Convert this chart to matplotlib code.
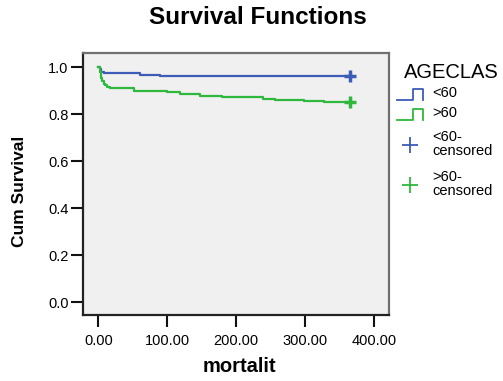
import matplotlib
matplotlib.use("Agg")
import matplotlib.pyplot as plt

plt.rcParams['font.family'] = ['Liberation Sans', 'DejaVu Sans']

# survival estimates (time, cumulative survival)
young_t = [0, 2, 4, 8, 61, 90, 162, 365]
young_s = [1.0, 0.99, 0.98, 0.973, 0.967, 0.963, 0.962, 0.962]
old_t = [0, 2, 4, 6, 8, 10, 13, 17, 51, 100, 119, 148, 179, 209, 239, 256, 299, 328, 365]
old_s = [1.0, 0.98, 0.955, 0.94, 0.93, 0.922, 0.915, 0.909, 0.899, 0.892, 0.885,
         0.878, 0.874, 0.871, 0.865, 0.861, 0.857, 0.852, 0.852]
# last censored case in each group
young_cens_t = [365]
young_cens_s = [0.962]
old_cens_t = [365]
old_cens_s = [0.852]

groups = ['<60', '>60']
x_ticks = [0, 100, 200, 300, 400]
y_ticks = [0.0, 0.2, 0.4, 0.6, 0.8, 1.0]

blue = '#3D5CB6'
green = '#2EB83C'

W, H = 503, 381
fig = plt.figure(figsize=(W / 100, H / 100), dpi=100)
ax = fig.add_axes([83 / W, 1 - 315 / H, 306 / W, 262 / H])
ax.set_facecolor('#F0F0F0')

ax.step(young_t, young_s, where='post', color=blue, lw=1.6)
ax.step(old_t, old_s, where='post', color=green, lw=1.6)
ax.plot(young_cens_t, young_cens_s, '+', color=blue, ms=8, mew=2.5)
ax.plot(old_cens_t, old_cens_s, '+', color=green, ms=8, mew=2.5)

ax.set_xlim(-22.3, 421.8)
ax.set_ylim(-0.055, 1.06)
ax.set_xticks(x_ticks)
ax.set_xticklabels(['%.2f' % v for v in x_ticks])
ax.set_yticks(y_ticks)
ax.set_yticklabels(['%.1f' % v for v in y_ticks])
ax.tick_params(axis='both', direction='out', length=8.5, width=1.5, labelsize=10.5, color='#111111')
ax.tick_params(axis='y', pad=2)
ax.tick_params(axis='x', pad=5)

for side in ['left', 'bottom']:
    ax.spines[side].set_color('#222222')
    ax.spines[side].set_linewidth(1.6)
for side in ['top', 'right']:
    ax.spines[side].set_color('#707070')
    ax.spines[side].set_linewidth(1.6)

ax.set_xlabel('mortalit', fontsize=14.5, fontweight='bold', va='center')
ax.xaxis.set_label_coords(0.51, -0.198)
ax.set_ylabel('Cum Survival', fontsize=12.5, fontweight='bold', va='center')
ax.yaxis.set_label_coords(-0.209, 0.473)

fig.text(258 / W, 1 - 18 / H, 'Survival Functions', fontsize=17.5, fontweight='bold',
         ha='center', va='center')

# legend, drawn on an overlay in pixel units
lg = fig.add_axes([0, 0, 1, 1], facecolor='none')
lg.set_xlim(0, W)
lg.set_ylim(H, 0)
lg.axis('off')
lg.text(404, 73, 'AGECLAS', fontsize=14.5, va='center', ha='left')
for i, (g, c) in enumerate(zip(groups, [blue, green])):
    yb = 100 + 20 * i
    lg.plot([397, 412.7, 412.7, 423.3, 423.3], [yb, yb, yb - 11, yb - 11, yb], color=c, lw=1.3)
    lg.text(432, yb - 7, g, fontsize=10.5, va='center', ha='left')
    yc = 145 + 40 * i
    lg.plot([410], [yc], '+', color=c, ms=12, mew=1.3)
    lg.text(432, yc - 1, g + '-\ncensored', fontsize=10.5, va='center', ha='left',
            linespacing=1.05)

fig.savefig('out.png', dpi=100)
